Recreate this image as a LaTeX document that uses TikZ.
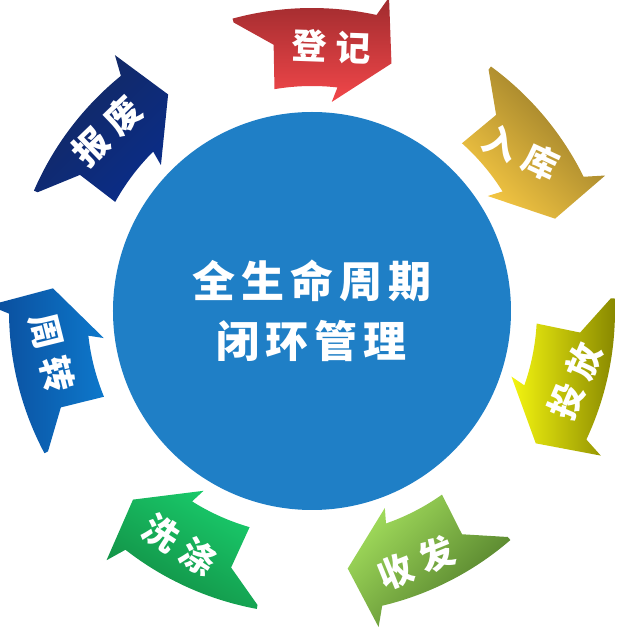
\documentclass[tikz,border=0pt]{standalone}
\usepackage{fontspec}
\newfontfamily\cjk{Noto Sans CJK SC}
\usepackage{tikz}
\usetikzlibrary{calc}
\definecolor{hubblue}{HTML}{1F7FC6}
\definecolor{redtop}{HTML}{9F2B2E}
\definecolor{redbot}{HTML}{F2474A}
\definecolor{golddark}{HTML}{8E7326}
\definecolor{goldlight}{HTML}{F6C843}
\definecolor{yellowlight}{HTML}{F4F510}
\definecolor{yellowdark}{HTML}{878700}
\definecolor{limelight}{HTML}{A2DD5C}
\definecolor{limedark}{HTML}{4C7727}
\definecolor{greenlight}{HTML}{19CB6B}
\definecolor{greendark}{HTML}{128A42}
\definecolor{bluedark}{HTML}{0B4C9B}
\definecolor{bluelight}{HTML}{0D78CB}
\definecolor{navydark}{HTML}{14285F}
\definecolor{navylight}{HTML}{0A2D88}
\newcommand{\cyclearrow}[2]{%
\shade[#2] (#1:260) -- (#1+4:323) -- (#1+5.5:303)
  arc[start angle=#1+5.5, end angle=#1+33, radius=303] -- (#1+33:299)
  -- (#1+26:269) -- (#1+27.4:225)
  arc[start angle=#1+27.4, end angle=#1+11.3, radius=225] -- (#1+12.4:210) -- cycle;
}

\begin{document}
\begin{tikzpicture}[x=1pt,y=1pt,
  lbl/.style={text=white, font=\cjk\bfseries\fontsize{35}{35}\selectfont, inner sep=0pt},
  hub/.style={circle, fill=hubblue, minimum size=398pt, inner sep=0pt, text=white, align=center, font=\cjk\bfseries\fontsize{43}{60}\selectfont}]
\useasboundingbox (-312,-318) rectangle (326,311);
\cyclearrow{72.2}{top color=redtop, bottom color=redbot}
\cyclearrow{20.8}{top color=golddark, bottom color=goldlight, shading angle=-45}
\cyclearrow{-30.6}{left color=yellowlight, right color=yellowdark}
\cyclearrow{-82.1}{top color=limelight, bottom color=limedark, shading angle=45}
\cyclearrow{-133.5}{top color=greenlight, bottom color=greendark, shading angle=-30}
\cyclearrow{175}{left color=bluedark, right color=bluelight}
\cyclearrow{123.6}{top color=navydark, bottom color=navylight, shading angle=45}
\node[hub] (hub) at (0,0) {全\hspace{6pt}生\hspace{6pt}命\hspace{6pt}周\hspace{6pt}期\\闭\hspace{6pt}环\hspace{6pt}管\hspace{6pt}理};
\node[lbl, rotate=-2] (dengji) at (19,264) {登\hspace{9pt}记};
\node[lbl, rotate=-25] (ruku) at (209,159) {入\hspace{9pt}库};
\node[lbl, rotate=67] (toufang) at (263,-70) {投\hspace{9pt}放};
\node[lbl, rotate=22] (shoufa) at (104,-252) {收\hspace{9pt}发};
\node[lbl, rotate=-33] (xidi) at (-132,-234) {洗\hspace{9pt}涤};
\node[lbl, rotate=-76] (zhouzhuan) at (-260,-42) {周\hspace{9pt}转};
\node[lbl, rotate=44] (baofei) at (-205,180) {报\hspace{9pt}废};
\end{tikzpicture}
\end{document}
